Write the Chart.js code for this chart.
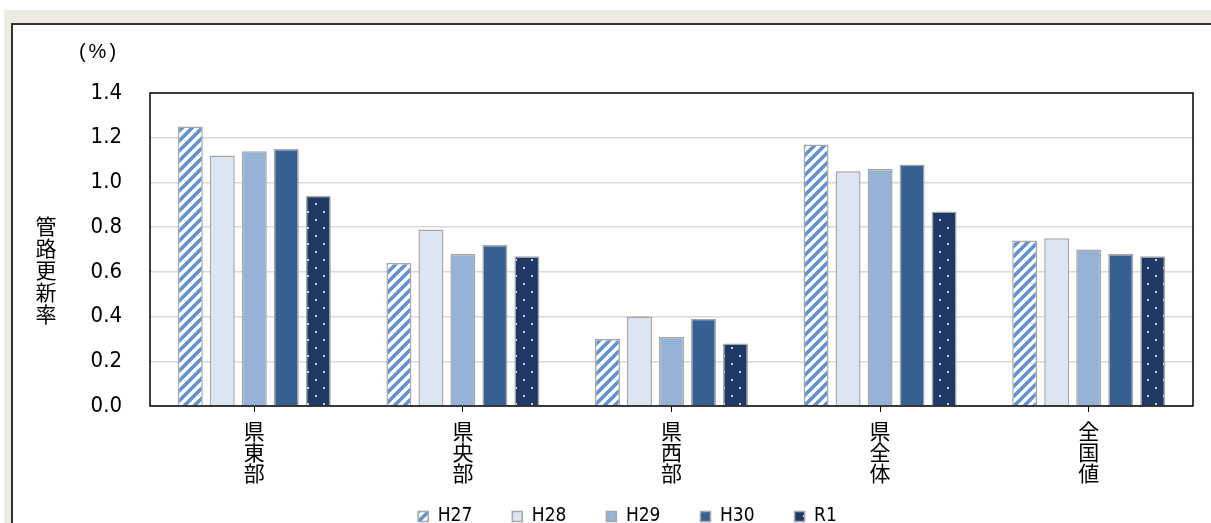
<!DOCTYPE html>
<html>
<head>
<meta charset="utf-8">
<script src="https://cdn.jsdelivr.net/npm/chart.js@4/dist/chart.umd.min.js"></script>
<style>
html, body { margin: 0; padding: 0; width: 1211px; height: 523px; overflow: hidden; background: #fff; }
#frame { position: absolute; left: 4px; top: 10px; width: 1300px; height: 600px; background: #eeebe0; }
#panel { position: absolute; left: 11px; top: 23px; width: 1300px; height: 600px; background: #fff;
  border-left: 2px solid #333; border-top: 2px solid #333; box-sizing: border-box; }
#c { position: absolute; left: 0; top: 0; }
</style>
</head>
<body>
<div id="frame"></div>
<div id="panel"></div>
<canvas id="c" width="1211" height="562"></canvas>
<script>
// 管路更新率 (%)
const categories = ['県東部', '県央部', '県西部', '県全体', '全国値'];
const years = ['H27', 'H28', 'H29', 'H30', 'R1'];
const h27 = [1.25, 0.64, 0.30, 1.17, 0.74];
const h28 = [1.12, 0.79, 0.40, 1.05, 0.75];
const h29 = [1.14, 0.68, 0.31, 1.06, 0.70];
const h30 = [1.15, 0.72, 0.39, 1.08, 0.68];
const r1  = [0.94, 0.67, 0.28, 0.87, 0.67];
const yTicks = [0, 0.2, 0.4, 0.6, 0.8, 1.0, 1.2, 1.4];

const narrow = '"DejaVu Sans Condensed", "DejaVu Sans"';

function stripes() {
  const c = document.createElement('canvas');
  c.width = c.height = 10;
  const x = c.getContext('2d');
  x.fillStyle = '#fff';
  x.fillRect(0, 0, 10, 10);
  x.strokeStyle = '#6591cc';
  x.lineWidth = 3.6;
  x.beginPath();
  x.moveTo(-2, 12); x.lineTo(12, -2);
  x.moveTo(-2, 2); x.lineTo(2, -2);
  x.moveTo(8, 12); x.lineTo(12, 8);
  x.stroke();
  return x.createPattern(c, 'repeat');
}
function dots() {
  const c = document.createElement('canvas');
  c.width = c.height = 16;
  const x = c.getContext('2d');
  x.fillStyle = '#203864';
  x.fillRect(0, 0, 16, 16);
  x.fillStyle = '#c9d6ea';
  x.fillRect(3, 3, 2, 2);
  x.fillRect(11, 11, 2, 2);
  return x.createPattern(c, 'repeat');
}

const fills = [stripes(), '#dce6f2', '#95b3d7', '#366092', dots()];
const series = [h27, h28, h29, h30, r1];

const extras = {
  id: 'extras',
  afterLayout(chart) {
    // move legend row to where the reference shows it
    const lg = chart.legend;
    const h = lg.height;
    lg.top = 467;
    lg.bottom = lg.top + h;
    lg.left += 31;
    lg.right += 31;
  },
  afterDraw(chart) {
    const ctx = chart.ctx, a = chart.chartArea;
    ctx.save();
    ctx.strokeStyle = '#000';
    ctx.lineWidth = 1.5;
    ctx.strokeRect(a.left, a.top, a.right - a.left, a.bottom - a.top);
    ctx.fillStyle = '#000';
    ctx.textAlign = 'center';
    ctx.textBaseline = 'middle';
    ctx.font = '20px "Liberation Sans"';
    ctx.letterSpacing = '3px';
    ctx.fillText('(%)', 99, 52);
    ctx.letterSpacing = '0px';
    ctx.font = '21px "Noto Sans CJK JP"';
    const t = '管路更新率';
    for (let i = 0; i < t.length; i++) ctx.fillText(t[i], 46, 226 + i * 22);
    ctx.restore();
  }
};

new Chart(document.getElementById('c'), {
  type: 'bar',
  data: {
    labels: categories,
    datasets: years.map((y, i) => ({
      label: y,
      data: series[i],
      backgroundColor: fills[i],
      borderColor: '#a6a6a6',
      borderWidth: 1.5,
      categoryPercentage: 0.767,
      barPercentage: 0.78
    }))
  },
  options: {
    responsive: false,
    animation: false,
    layout: { padding: { top: 93, right: 18, left: 0, bottom: 0 } },
    plugins: {
      tooltip: { enabled: false },
      legend: {
        position: 'bottom',
        labels: {
          boxWidth: 10, boxHeight: 10, padding: 40, color: '#000',
          font: { family: narrow, size: 19 }
        }
      }
    },
    scales: {
      x: {
        grid: { display: true, drawOnChartArea: false, offset: false, color: '#000', tickLength: 6 },
        border: { display: false },
        ticks: {
          color: '#000', padding: 9, maxRotation: 0, autoSkip: false,
          font: { family: '"Noto Sans CJK JP"', size: 21, lineHeight: 1.0 },
          callback: (v, i) => categories[i].split('')
        }
      },
      y: {
        min: 0, max: 1.4,
        afterBuildTicks: s => { s.ticks = yTicks.map(v => ({ value: v })); },
        grid: { color: '#d9d9d9', lineWidth: 1.5, drawTicks: false },
        border: { display: false },
        ticks: {
          color: '#000', padding: 28,
          font: { family: narrow, size: 22 },
          callback: v => v.toFixed(1)
        },
        afterFit: s => { s.width = 150; }
      }
    }
  },
  plugins: [extras]
});
</script>
</body>
</html>
